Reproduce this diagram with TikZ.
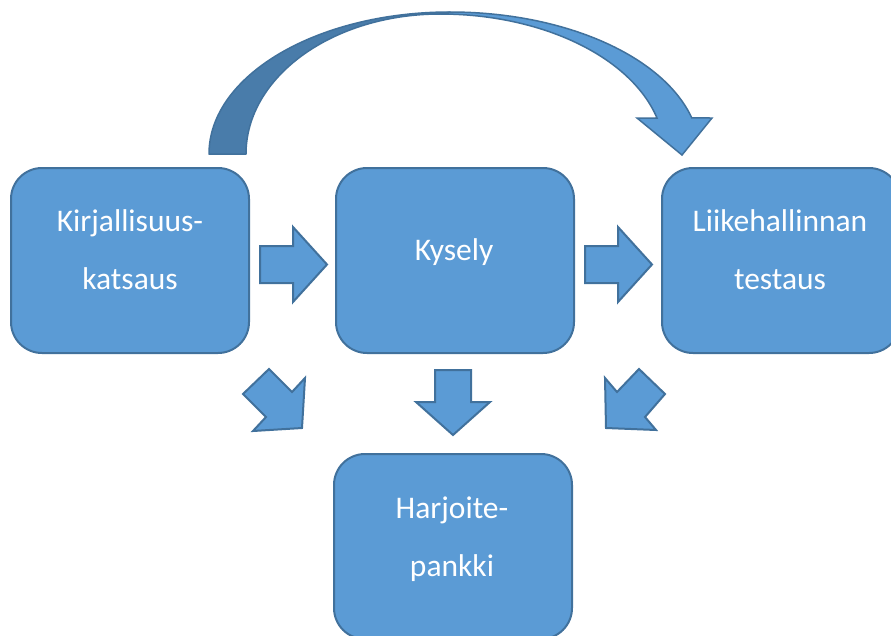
\documentclass[tikz,border=0pt]{standalone}
\usepackage{fontspec}
\setmainfont{Carlito}
\definecolor{fillblue}{HTML}{5B9BD5}
\definecolor{edgeblue}{HTML}{41719C}
\definecolor{darkblue}{HTML}{497CAA}
\begin{document}
\begin{tikzpicture}[x=1pt,y=-1pt,
  box/.style={draw=edgeblue, fill=fillblue, line width=2pt, rounded corners=31pt,
    minimum width=238pt, minimum height=185pt, anchor=north west, inner sep=0pt},
  blockarrow/.style={draw=edgeblue, fill=fillblue, line width=2pt, line join=miter},
  txt/.style={text=white, font=\fontsize{31.5}{38}\selectfont, anchor=base, inner sep=0pt}]
\clip (0,0) rectangle (891,635);
\fill[white] (0,0) rectangle (891,635);
% boxes
\node[box] (b1) at (10,167) {};
\node[box] (b2) at (335,167) {};
\node[box] (b3) at (661,167) {};
\node[box] (b4) at (333,453) {};
% texts
\node[txt] (t1a) at (130,231) {Kirjallisuus-};
\node[txt] (t1b) at (130,289) {katsaus};
\node[txt] (t2) at (454,260) {Kysely};
\node[txt] (t3a) at (780,231) {Liikehallinnan};
\node[txt] (t3b) at (780,289) {testaus};
\node[txt] (t4a) at (452,518) {Harjoite-};
\node[txt] (t4b) at (452,576) {pankki};
% block arrows
\draw[blockarrow] (260,246) -- (293,246) -- (293,227) -- (327,264.5) -- (293,302) -- (293,283) -- (260,283) -- cycle;
\draw[blockarrow] (585,246) -- (618,246) -- (618,227) -- (652,264.5) -- (618,302) -- (618,283) -- (585,283) -- cycle;
\draw[blockarrow] (435,370) -- (471,370) -- (471,402) -- (490,402) -- (453,435) -- (416,402) -- (435,402) -- cycle;
\draw[blockarrow] (243,394) -- (269,369) -- (292,392) -- (305,378) -- (302,428) -- (253,431) -- (266,417) -- cycle;
\draw[blockarrow] (665,394) -- (639,369) -- (617,392) -- (605,378) -- (606,428) -- (656,430) -- (645,417) -- cycle;
% curved arrow
\draw[fill=darkblue, draw=edgeblue, line width=1.5pt, line join=round]
  (209,154) arc[start angle=180, end angle=270, x radius=241, y radius=142]
  -- (440,14) arc[start angle=270, end angle=180, x radius=194, y radius=140] -- cycle;
\draw[fill=fillblue, draw=edgeblue, line width=1.5pt, line join=miter]
  (450,12) arc[start angle=-90, end angle=-14.7, x radius=250, y radius=142]
  -- (712,118) -- (682,155) -- (637,118) -- (657,118)
  arc[start angle=-14.9, end angle=-90, x radius=224.6, y radius=140] -- cycle;
\end{tikzpicture}
\end{document}
